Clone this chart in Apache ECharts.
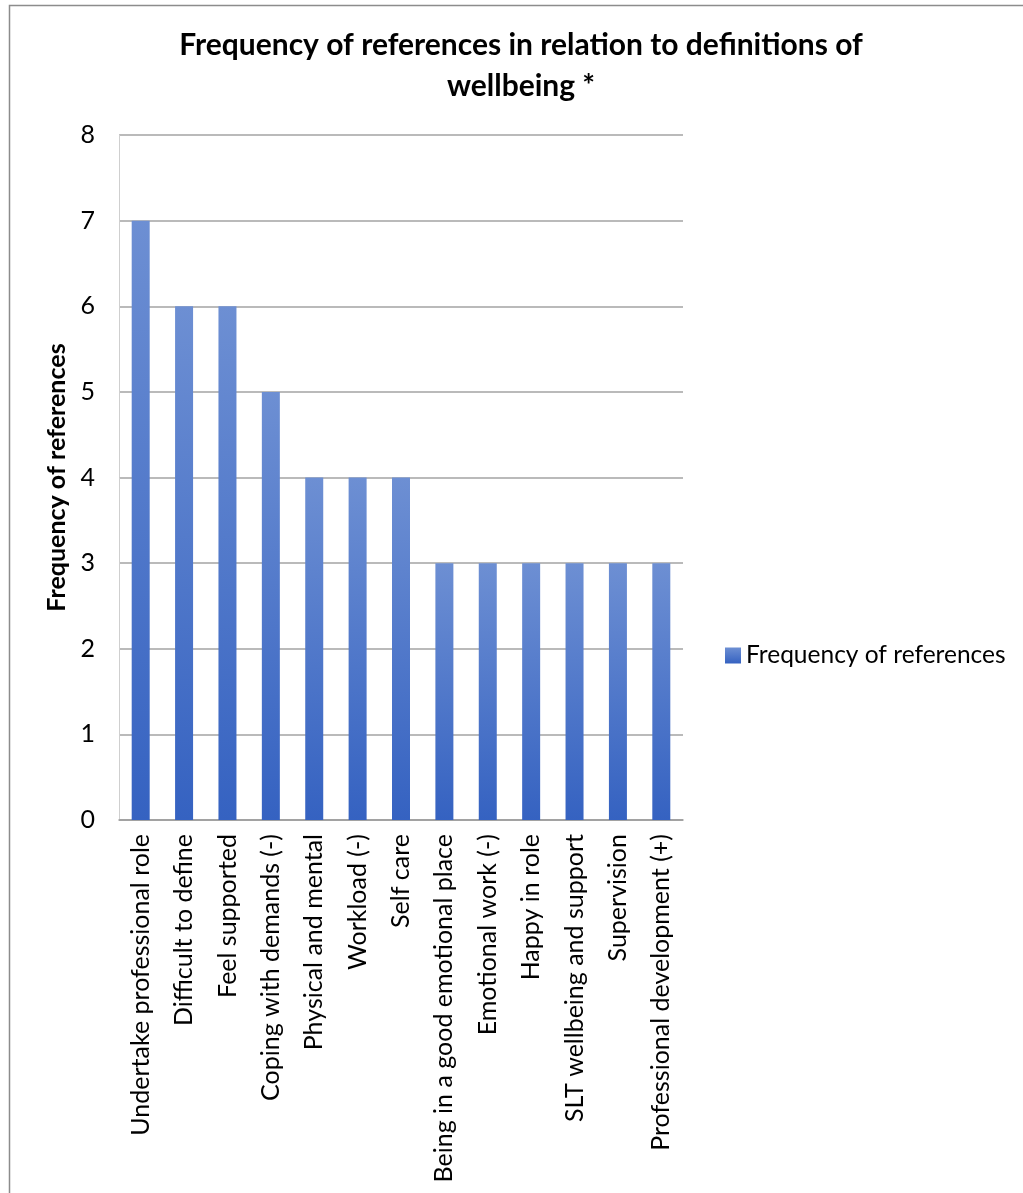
<!DOCTYPE html>
<html>
<head>
<meta charset="utf-8">
<script src="https://cdn.jsdelivr.net/npm/echarts@6/dist/echarts.min.js"></script>
<style>
  html, body { margin: 0; padding: 0; background: #ffffff; }
  #chart { width: 1023px; height: 1193px; }
</style>
</head>
<body>
<div id="chart"></div>
<script>
// Categories and counts of references for each wellbeing definition theme
const categories = [
  'Undertake professional role',
  'Difficult to define',
  'Feel supported',
  'Coping with demands (-)',
  'Physical and mental',
  'Workload (-)',
  'Self care',
  'Being in a good emotional place',
  'Emotional work (-)',
  'Happy in role',
  'SLT wellbeing and support',
  'Supervision',
  'Professional development (+)'
];
const referenceCounts = [7, 6, 6, 5, 4, 4, 4, 3, 3, 3, 3, 3, 3];
const yTicks = [0, 1, 2, 3, 4, 5, 6, 7, 8];

const FONT = 'Lato, "Open Sans", sans-serif';

const chart = echarts.init(document.getElementById('chart'), null, { renderer: 'canvas' });

const barFill = new echarts.graphic.LinearGradient(0, 0, 0, 1, [
  { offset: 0, color: '#6d8fd3' },
  { offset: 1, color: '#3562c1' }
]);

chart.setOption({
  animation: false,
  backgroundColor: '#ffffff',
  graphic: [{
    type: 'rect',
    left: 7, top: 3,
    shape: { width: 1100, height: 1300 },
    style: { fill: 'none', stroke: '#8c8c8c', lineWidth: 1.5 },
    silent: true
  }],
  title: {
    text: 'Frequency of references in relation to definitions of\nwellbeing *',
    left: 516,
    top: 20,
    textAlign: 'center',
    textStyle: {
      fontFamily: FONT,
      fontWeight: 'bold',
      fontSize: 30,
      lineHeight: 41,
      color: '#000000'
    }
  },
  legend: {
    data: ['Frequency of references'],
    left: 720,
    top: 638,
    itemWidth: 16,
    itemHeight: 16,
    itemGap: 6,
    icon: 'rect',
    textStyle: { fontFamily: FONT, fontSize: 24.5, color: '#000000' }
  },
  grid: {
    left: 119,
    right: 340,
    top: 135,
    bottom: 373,
    containLabel: false
  },
  xAxis: {
    type: 'category',
    data: categories,
    axisTick: { show: false },
    axisLine: { show: true, lineStyle: { color: '#9a9a9a', width: 1.5 } },
    axisLabel: {
      interval: 0,
      rotate: 90,
      margin: 14,
      fontFamily: FONT,
      fontSize: 25,
      color: '#000000'
    }
  },
  yAxis: {
    type: 'value',
    min: yTicks[0],
    max: yTicks[yTicks.length - 1],
    interval: 1,
    name: 'Frequency of references',
    nameLocation: 'middle',
    nameGap: 46,
    nameTextStyle: {
      fontFamily: FONT,
      fontWeight: 'bold',
      fontSize: 25,
      color: '#000000'
    },
    axisLine: { show: true, lineStyle: { color: '#cfcfcf', width: 1 } },
    axisTick: { show: false },
    axisLabel: {
      margin: 24,
      fontFamily: FONT,
      fontSize: 25,
      color: '#000000'
    },
    splitLine: { show: true, lineStyle: { color: '#a3a3a3', width: 1.5 } }
  },
  series: [{
    name: 'Frequency of references',
    type: 'bar',
    data: referenceCounts,
    barWidth: 18,
    itemStyle: { color: barFill }
  }]
});
</script>
</body>
</html>
